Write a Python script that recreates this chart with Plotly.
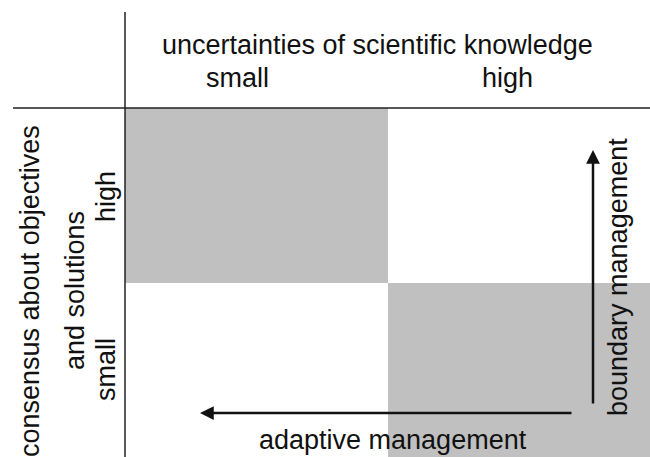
import plotly.graph_objects as go

# ---- data ----
uncertainty_levels = ["small", "high"]          # x categories
consensus_levels = ["small", "high"]            # y categories (bottom -> top)
shading = [[0, 1],                              # consensus small: (small unc, high unc)
           [1, 0]]                              # consensus high
x_title = "uncertainties of scientific knowledge"
y_title_lines = ["consensus about objectives", "and solutions"]
arrow_labels = ["adaptive management", "boundary management"]

W, H = 650, 457
L, T = 125, 108
PW, PH = W - L, H - T

def px(xp):
    return (xp - L) / PW

def py(yp):
    return (H - yp) / PH

FONT = dict(family="Liberation Sans, Arial, sans-serif", size=27, color="#111")

fig = go.Figure(go.Heatmap(
    x=uncertainty_levels, y=consensus_levels, z=shading,
    colorscale=[[0, "white"], [1, "#c0c0c0"]], showscale=False,
    hoverinfo="skip", xgap=0, ygap=0,
))

fig.update_layout(
    width=W, height=H,
    margin=dict(l=L, r=0, t=T, b=0, pad=0),
    paper_bgcolor="white", plot_bgcolor="white",
    xaxis=dict(visible=False, range=[-0.5, 1.5]),
    yaxis=dict(visible=False, range=[-0.5, 1.5]),
    showlegend=False,
)

LINE = dict(color="#222", width=1.5)
fig.add_shape(type="line", xref="paper", yref="paper",
              x0=px(L), x1=px(L), y0=py(12), y1=py(H), line=LINE)
fig.add_shape(type="line", xref="paper", yref="paper",
              x0=px(13), x1=px(W), y0=py(T), y1=py(T), line=LINE)

ann = []
# top header
ann.append(dict(text=x_title, x=px(377), y=py(45)))
ann.append(dict(text=uncertainty_levels[0], x=px(237), y=py(78)))
ann.append(dict(text=uncertainty_levels[1], x=px(507), y=py(78)))
# left header (rotated)
ann.append(dict(text=y_title_lines[0], x=px(30), y=py(291), textangle=-90))
ann.append(dict(text=y_title_lines[1], x=px(75), y=py(291), textangle=-90))
ann.append(dict(text=consensus_levels[1], x=px(106), y=py(197), textangle=-90))
ann.append(dict(text=consensus_levels[0], x=px(106), y=py(370), textangle=-90))
# arrow labels
ann.append(dict(text=arrow_labels[0], x=px(393), y=py(440)))
ann.append(dict(text=arrow_labels[1], x=px(618), y=py(277), textangle=-90))

for a in ann:
    fig.add_annotation(xref="paper", yref="paper", showarrow=False,
                       xanchor="center", yanchor="middle", font=FONT, **a)

# arrows
fig.add_annotation(xref="paper", yref="paper", x=px(593), y=py(150), text="",
                   showarrow=True, ax=0, ay=255, arrowhead=2, arrowsize=1.1,
                   arrowwidth=2.5, arrowcolor="#111")
fig.add_annotation(xref="paper", yref="paper", x=px(200), y=py(413), text="",
                   showarrow=True, ax=373, ay=0, arrowhead=2, arrowsize=1.1,
                   arrowwidth=2.5, arrowcolor="#111")

fig.write_html("out.html", config={"displayModeBar": False},
               post_script="document.body.style.margin='0';")
